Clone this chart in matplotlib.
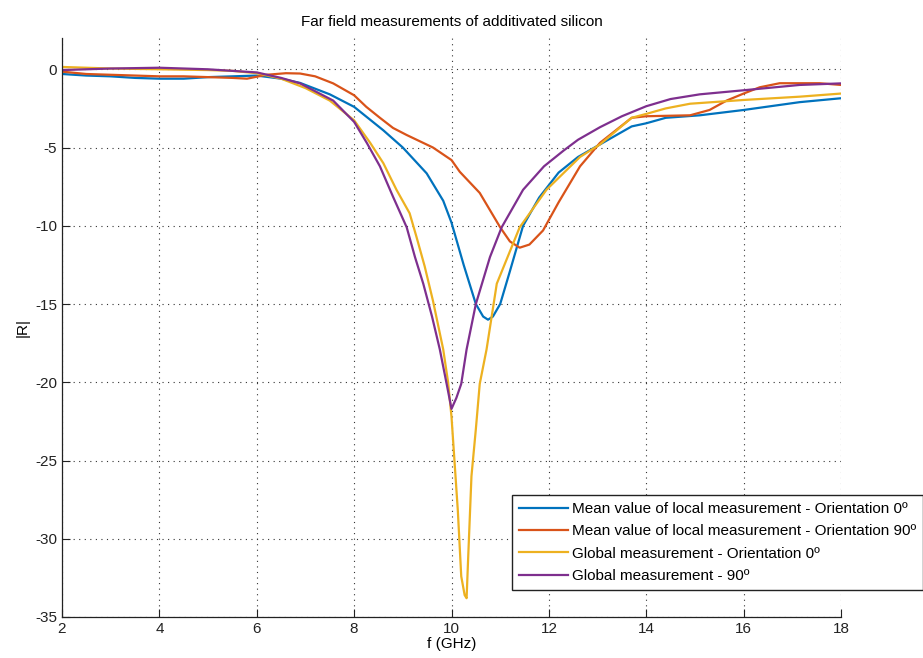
import numpy as np
import matplotlib
matplotlib.use('Agg')
import matplotlib.pyplot as plt

plt.rcParams['font.family'] = ['Liberation Sans', 'DejaVu Sans']
plt.rcParams['axes.unicode_minus'] = False

# Mean value of local measurement - Orientation 0
x_loc0 = [2, 2.5, 3, 3.5, 4, 4.5, 5, 5.5, 6, 6.5, 6.89, 7.5, 8, 8.6, 9.0, 9.49, 9.83, 10,
          10.25, 10.5, 10.65, 10.75, 10.85, 11, 11.2, 11.47, 11.8, 12.2, 12.6, 13.05,
          13.7, 14, 14.4, 15.1, 16, 17.15, 18]
y_loc0 = [-0.3, -0.4, -0.45, -0.55, -0.6, -0.6, -0.5, -0.45, -0.4, -0.6, -0.87, -1.6,
          -2.4, -3.9, -5.0, -6.65, -8.4, -9.8, -12.5, -15.0, -15.8, -16.0, -15.8, -15.0,
          -12.9, -10.0, -8.2, -6.6, -5.6, -4.8, -3.65, -3.45, -3.1, -2.94, -2.6, -2.1, -1.85]

# Mean value of local measurement - Orientation 90
x_loc90 = [2, 2.5, 3, 3.5, 4, 4.5, 5, 5.5, 5.8, 6.2, 6.6, 6.89, 7.2, 7.57, 8, 8.25, 8.53,
           8.8, 9.08, 9.62, 10, 10.17, 10.58, 11, 11.2, 11.4, 11.6, 11.88, 12.2, 12.64,
           13.05, 13.7, 14, 14.9, 15.3, 15.65, 16, 16.33, 16.74, 17.56, 18]
y_loc90 = [-0.15, -0.3, -0.35, -0.4, -0.45, -0.45, -0.5, -0.55, -0.6, -0.35, -0.25,
           -0.27, -0.45, -0.9, -1.66, -2.4, -3.1, -3.75, -4.2, -5.0, -5.8, -6.55, -7.9,
           -10.1, -11.0, -11.4, -11.2, -10.3, -8.5, -6.2, -4.7, -3.1, -3.0, -2.94, -2.6,
           -2.0, -1.55, -1.15, -0.89, -0.89, -1.0]

# Global measurement - Orientation 0
x_glob0 = [2, 3, 4, 5, 5.5, 6, 6.5, 7, 7.5, 8, 8.33, 8.6, 8.87, 9.14, 9.28, 9.45, 9.62,
           9.83, 9.93, 10.0, 10.13, 10.2, 10.27, 10.31, 10.34, 10.41, 10.5, 10.58, 10.72,
           10.93, 11.4, 11.95, 12.64, 13.05, 13.7, 14, 14.4, 14.9, 16, 17.15, 18]
y_glob0 = [0.15, 0.05, 0.0, -0.05, -0.1, -0.25, -0.6, -1.2, -2.0, -3.26, -4.7, -6.0,
           -7.7, -9.2, -10.7, -12.6, -14.8, -17.9, -20.0, -22.2, -28.2, -32.4, -33.6,
           -33.8, -31.4, -26.0, -23.0, -20.1, -17.9, -13.7, -10.1, -7.7, -5.6, -4.8,
           -3.1, -2.85, -2.5, -2.2, -1.96, -1.75, -1.55]

# Global measurement - 90
x_glob90 = [2, 3, 4, 5, 5.5, 6, 6.5, 6.89, 7.57, 8, 8.26, 8.53, 8.8, 9.08, 9.25, 9.42,
            9.6, 9.76, 9.9, 10.0, 10.1, 10.2, 10.31, 10.5, 10.79, 11.03, 11.47, 11.9,
            12.3, 12.6, 13.05, 13.5, 14, 14.5, 15.1, 16, 17.15, 18]
y_glob90 = [-0.05, 0.05, 0.1, 0.0, -0.1, -0.2, -0.55, -0.9, -2.0, -3.36, -4.7, -6.2,
            -8.15, -10.1, -12.0, -13.7, -15.8, -17.9, -20.1, -21.7, -21.0, -20.1, -17.9,
            -15.0, -12.0, -10.1, -7.7, -6.2, -5.2, -4.5, -3.7, -3.0, -2.36, -1.9, -1.6,
            -1.34, -1.0, -0.9]

labels = ['Mean value of local measurement - Orientation 0º',
          'Mean value of local measurement - Orientation 90º',
          'Global measurement - Orientation 0º',
          'Global measurement - 90º']
colors = ['#0072BD', '#D95319', '#EDB120', '#7E2F8E']

fig = plt.figure(figsize=(9.23, 6.58), dpi=100)
ax = fig.add_axes([62 / 923, 41 / 658, 779 / 923, 579 / 658])

series = [(x_loc0, y_loc0), (x_loc90, y_loc90), (x_glob0, y_glob0), (x_glob90, y_glob90)]
for (xs, ys), c, lab in zip(series, colors, labels):
    ax.plot(xs, ys, color=c, lw=1.6, label=lab)

ax.set_xlim(2, 18)
ax.set_ylim(-35, 2)
ax.set_xticks(np.arange(2, 19, 2))
ax.set_yticks(np.arange(-35, 1, 5))
ax.grid(True, color='#333333', linestyle=(0, (1, 4)), linewidth=0.8)
ax.tick_params(direction='in', length=6, width=0.8, labelsize=11, colors='#222222')
for s in ['top', 'right']:
    ax.spines[s].set_visible(False)
for s in ['left', 'bottom']:
    ax.spines[s].set_color('#222222')
    ax.spines[s].set_linewidth(0.9)

ax.set_title('Far field measurements of additivated silicon', fontsize=11, pad=9)
ax.set_xlabel('f (GHz)', fontsize=11, labelpad=1)
ax.set_ylabel('|R|', fontsize=11, labelpad=4)

leg = ax.legend(loc='upper left', bbox_to_anchor=(512 / 923, 1 - 495 / 658),
                bbox_transform=fig.transFigure, fontsize=11, fancybox=False,
                framealpha=1, edgecolor='#222222', handlelength=3.2,
                handletextpad=0.3, labelspacing=0.55, borderpad=0.45, borderaxespad=0)
leg.get_frame().set_linewidth(1.0)

plt.savefig('out.png', dpi=100)
